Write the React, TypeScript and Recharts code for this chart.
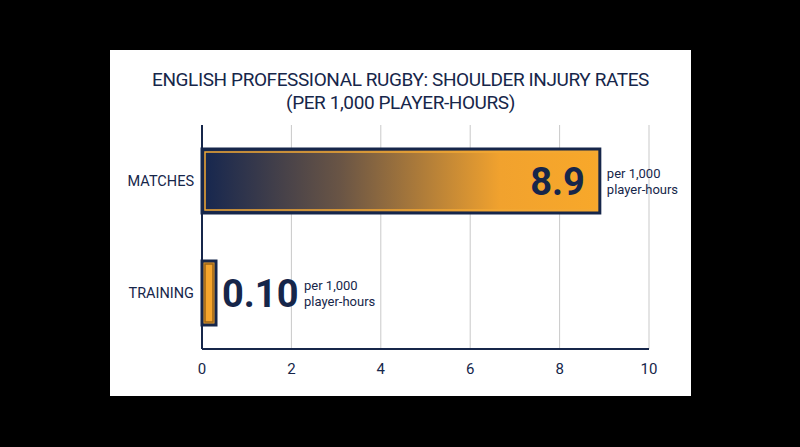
import { Bar, BarChart, CartesianGrid, Cell, LabelList, XAxis, YAxis } from "recharts";

const categories = ["MATCHES", "TRAINING"];
const rates = [8.9, 0.1];
const rateLabels = ["8.9", "0.10"];
const xTicks = [0, 2, 4, 6, 8, 10];
const unitLines = ["per 1,000", "player-hours"];

const NAVY = "#16264a";
const ORANGE = "#f6a52c";
const FONT = "Roboto, 'Noto Sans', sans-serif";

const data = categories.map((name, i) => ({ name, rate: rates[i], label: rateLabels[i] }));

function BarShape(props: any) {
  const { x, y, width, height, index } = props;
  const fill = index === 0 ? "url(#matchGrad)" : ORANGE;
  const inner = index === 0 ? "#f3a935" : "#9a6418";
  return (
    <g>
      <rect x={x} y={y} width={width} height={height} fill={fill} stroke={NAVY} strokeWidth={3} />
      <rect x={x + 3} y={y + 3} width={Math.max(width - 6, 0)} height={height - 6} fill="none" stroke={inner} strokeWidth={1.5} />
    </g>
  );
}

function RateLabel(props: any) {
  const { x, y, width, height, index } = props;
  const cy = y + height / 2;
  const text = rateLabels[index];
  const inside = width > 120;
  const numX = inside ? x + width - 15 : x + width + 6;
  const unitX = inside ? x + width + 7 : numX + 82;
  return (
    <g fontFamily={FONT}>
      <text x={numX} y={cy + 14} textAnchor={inside ? "end" : "start"} fontSize={38} fontWeight={700} fill={NAVY}>
        {text}
      </text>
      <text x={unitX} y={cy - 3} fontSize={13} fill={NAVY}>
        {unitLines[0]}
      </text>
      <text x={unitX} y={cy + 13} fontSize={13} fill={NAVY}>
        {unitLines[1]}
      </text>
    </g>
  );
}

export default function App() {
  return (
    <div style={{ position: "fixed", left: 0, top: 0, width: 800, height: 447, background: "#000" }}>
      <div
        style={{
          position: "absolute",
          left: 110,
          top: 50,
          width: 581,
          height: 346,
          background: "#fff",
          fontFamily: FONT,
        }}
      >
        <div
          style={{
            position: "absolute",
            left: 0,
            top: 18,
            width: 581,
            textAlign: "center",
            color: NAVY,
            fontSize: 19,
            letterSpacing: -0.4,
            lineHeight: "23px",
          }}
        >
          ENGLISH PROFESSIONAL RUGBY: SHOULDER INJURY RATES
          <br />
          (PER 1,000 PLAYER-HOURS)
        </div>
        <BarChart
          width={581}
          height={346}
          data={data}
          layout="vertical"
          margin={{ top: 75, right: 42, left: 0, bottom: 0 }}
          style={{ position: "absolute", left: 0, top: 0 }}
        >
          <defs>
            <linearGradient id="matchGrad" x1="0" y1="0" x2="1" y2="0">
              <stop offset="0%" stopColor="#15264f" />
              <stop offset="35%" stopColor="#6a5545" />
              <stop offset="75%" stopColor="#f1a22e" />
              <stop offset="100%" stopColor="#f8a82a" />
            </linearGradient>
          </defs>
          <CartesianGrid horizontal={false} stroke="#c9c9c9" strokeWidth={1} />
          <XAxis
            type="number"
            domain={[0, 10]}
            ticks={xTicks}
            height={47}
            tickLine={false}
            axisLine={{ stroke: NAVY, strokeWidth: 2 }}
            tick={{ fontSize: 15, fill: NAVY, fontFamily: FONT }}
            tickMargin={8}
          />
          <YAxis
            type="category"
            dataKey="name"
            width={92}
            tickLine={false}
            axisLine={{ stroke: NAVY, strokeWidth: 2 }}
            tick={{ fontSize: 14.5, fill: NAVY, fontFamily: FONT }}
            tickMargin={2}
          />
          <Bar dataKey="rate" barSize={64} minPointSize={14} shape={BarShape} isAnimationActive={false}>
            {data.map((d, i) => (
              <Cell key={i} fill={i === 0 ? "url(#matchGrad)" : ORANGE} />
            ))}
            <LabelList dataKey="rate" content={RateLabel} />
          </Bar>
        </BarChart>
      </div>
    </div>
  );
}
